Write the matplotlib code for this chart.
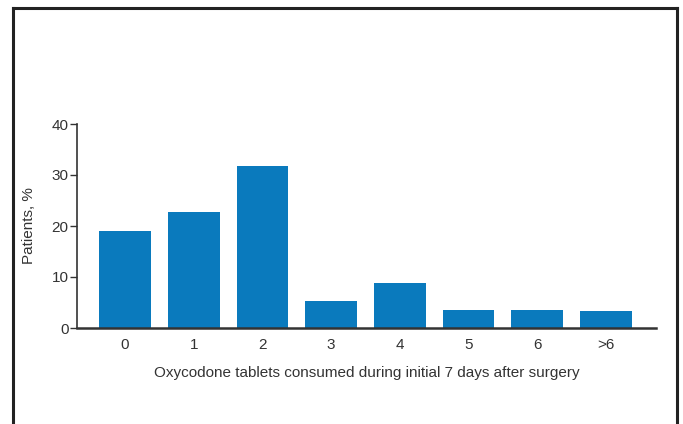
import matplotlib
matplotlib.use("Agg")
import matplotlib.pyplot as plt
from matplotlib.lines import Line2D

categories = ["0", "1", "2", "3", "4", "5", "6", ">6"]
values = [19.0, 22.8, 31.7, 5.3, 8.9, 3.5, 3.5, 3.4]
yticks = [0, 10, 20, 30, 40]

plt.rcParams['font.family'] = ['Liberation Sans', 'DejaVu Sans']

W, H = 683, 424
fig = plt.figure(figsize=(W/100, H/100), dpi=100)
ax = fig.add_axes([77/W, 1-328/H, (656-77)/W, (328-124)/H])

x = list(range(len(categories)))
ax.bar(x, values, width=0.75, color='#0a7abd', zorder=2)
ax.set_xlim(-0.70, 7.73)
ax.set_ylim(0, 40)
ax.set_yticks(yticks)
ax.set_xticks(x)
ax.set_xticklabels(categories)
for s in ['top', 'right']:
    ax.spines[s].set_visible(False)
ax.spines['left'].set_color('#333333')
ax.spines['left'].set_linewidth(1.2)
ax.spines['bottom'].set_color('#333333')
ax.spines['bottom'].set_linewidth(1.8)
ax.tick_params(axis='y', length=5, width=1, color='#333333', labelcolor='#333333', labelsize=11, pad=1)
ax.tick_params(axis='x', length=0, labelcolor='#333333', labelsize=11, pad=7)
ax.set_ylabel('Patients, %', fontsize=11, color='#333333', labelpad=11)
ax.set_xlabel('Oxycodone tablets consumed during initial 7 days after surgery', fontsize=11, color='#333333', labelpad=10)

# outer frame (left, top, right)
lw = 2.2
fig.add_artist(Line2D([13/W, 13/W], [0, 1-8/H], color='#222222', lw=lw, transform=fig.transFigure))
fig.add_artist(Line2D([13/W, 676.5/W], [1-8/H, 1-8/H], color='#222222', lw=lw, transform=fig.transFigure))
fig.add_artist(Line2D([676.5/W, 676.5/W], [0, 1-8/H], color='#222222', lw=lw, transform=fig.transFigure))

fig.savefig('out.png', dpi=100)
